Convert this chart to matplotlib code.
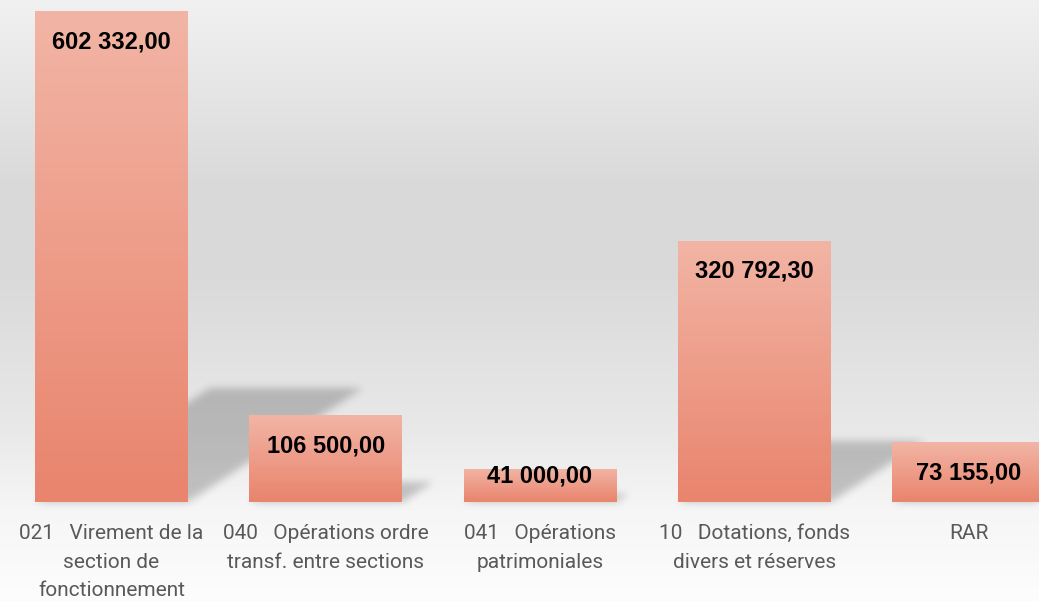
import numpy as np
import matplotlib.pyplot as plt
from matplotlib.colors import LinearSegmentedColormap

# Data
categories = [
    "021   Virement de la\nsection de\nfonctionnement",
    "040   Opérations ordre\ntransf. entre sections",
    "041   Opérations\npatrimoniales",
    "10   Dotations, fonds\ndivers et réserves",
    "RAR",
]
values = [602332.00, 106500.00, 41000.00, 320792.30, 73155.00]

W, H = 1039, 602
fig = plt.figure(figsize=(W / 100, H / 100), dpi=100)

# background gradient (light grey top, darker middle, near white bottom)
bg = fig.add_axes([0, 0, 1, 1])
bg.set_xlim(0, W)
bg.set_ylim(0, H)
bg.axis("off")
stops_pos = [0.0, 0.30, 0.45, 0.72, 0.85, 1.0]
stops_val = [241, 218, 217, 233, 246, 253]
g = np.interp(np.linspace(0, 1, H), stops_pos, stops_val) / 255
bg_img = np.repeat(g[:, None, None], 3, axis=2).repeat(2, axis=1)
bg.imshow(bg_img, extent=(0, W, 0, H), origin="upper", aspect="auto", zorder=0)

# main axes: spans a bit past the right edge like the original
ax = fig.add_axes([4.375 / W, 100 / H, 1071.25 / W, 502 / H])
ax.patch.set_alpha(0)
x = np.arange(len(values))
bars = ax.bar(x, values, width=0.714, color="#ec9c86", zorder=2)
ax.set_xlim(-0.5, len(values) - 0.5)
ax.set_ylim(0, max(values) * 502 / 491)

# gradient fill on each bar
bar_cmap = LinearSegmentedColormap.from_list("bar", ["#e9846d", "#f2b5a5"])
grad = np.linspace(0, 1, 256)[:, None]
for b in bars:
    x0, w, h = b.get_x(), b.get_width(), b.get_height()
    im = ax.imshow(grad, cmap=bar_cmap, extent=(x0, x0 + w, 0, h),
                   origin="lower", aspect="auto", zorder=3)
    im.set_clip_path(b)
ax.set_xlim(-0.5, len(values) - 0.5)
ax.set_ylim(0, max(values) * 502 / 491)

# perspective shadows behind bars, drawn in pixel space and blurred
px = np.arange(W) + 0.5
py = np.arange(H) + 0.5
PX, PY = np.meshgrid(px, py)
mask = np.zeros((H, W))
for b in bars:
    (x0d, y0d), (x1d, y1d) = ax.transData.transform(
        [(b.get_x(), 0), (b.get_x() + b.get_width(), b.get_height())])
    sh_h = 0.232 * (y1d - y0d)
    dy = PY - y0d
    shift = dy * 1.535
    inside = (dy >= 0) & (dy <= sh_h) & (PX >= x0d + shift) & (PX <= x1d + shift)
    mask[inside] = 1.0

sigma = 4.0
k = np.arange(-12, 13)
kern = np.exp(-k ** 2 / (2 * sigma ** 2))
kern /= kern.sum()
mask = np.apply_along_axis(lambda r: np.convolve(r, kern, mode="same"), 1, mask)
mask = np.apply_along_axis(lambda c: np.convolve(c, kern, mode="same"), 0, mask)
shadow = np.zeros((H, W, 4))
shadow[..., 3] = mask * 0.21
bg.imshow(shadow, extent=(0, W, 0, H), origin="lower", aspect="auto", zorder=1)
bg.set_xlim(0, W)
bg.set_ylim(0, H)

# value labels
for b, v in zip(bars, values):
    txt = f"{v:,.2f}".replace(",", " ").replace(".", ",")
    (_, y0d), (_, y1d) = ax.transData.transform([(0, 0), (0, b.get_height())])
    off = min(37, (y1d - y0d) - 19)
    ax.annotate(txt, (b.get_x() + b.get_width() / 2, b.get_height()),
                xytext=(0, -off), textcoords="offset pixels",
                ha="center", va="baseline", fontsize=17, fontweight="bold",
                family="Liberation Sans", color="black", zorder=5)

# category labels
ax.set_xticks(x, categories)
ax.tick_params(axis="x", length=0, pad=16, labelsize=15, colors="#595959")
for lbl in ax.get_xticklabels():
    lbl.set_fontfamily("Roboto")
    lbl.set_linespacing(1.64)
ax.set_yticks([])
for s in ax.spines.values():
    s.set_visible(False)

fig.savefig("out.png", dpi=100)
